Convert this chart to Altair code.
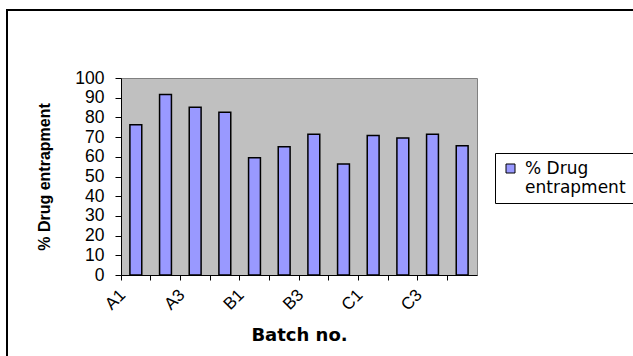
import json
import altair as alt
import pandas as pd

# ---- data ----
batches = ["A1", "A2", "A3", "A4", "B1", "B2", "B3", "B4", "C1", "C2", "C3", "C4"]
entrapment = [76.3, 91.6, 85.1, 82.6, 59.5, 65.1, 71.4, 56.3, 70.8, 69.6, 71.4, 65.6]
series_name = "% Drug entrapment"
y_ticks = [0, 10, 20, 30, 40, 50, 60, 70, 80, 90, 100]

df = pd.DataFrame({
    "batch": batches,
    "value": entrapment,
    "series": [series_name] * len(batches),
})

# show every other category label, like the original
x_label_expr = (
    f"indexof({json.dumps(batches)}, datum.value) % 2 === 0 ? datum.label : ''"
)
legend_label_expr = (
    "[slice(datum.label, 0, lastindexof(datum.label, ' ')), "
    "slice(datum.label, lastindexof(datum.label, ' ') + 1)]"
)

bars = alt.Chart(df).mark_bar(
    width=alt.RelativeBandSize(0.40),
    stroke="black",
    strokeWidth=1.5,
).encode(
    x=alt.X(
        "batch:N",
        sort=batches,
        scale=alt.Scale(paddingInner=0, paddingOuter=0),
        axis=alt.Axis(
            title="Batch no.",
            bandPosition=0,
            labelExpr=x_label_expr,
            labelAngle=-45,
            labelAlign="right",
            labelBaseline="middle",
            labelOffset=-13,
            labelPadding=12,
            labelFont="Liberation Sans",
            labelFontSize=17,
            tickSize=5,
            titleFont="DejaVu Sans",
            titleFontSize=18,
            titleFontWeight="bold",
            titlePadding=13,
        ),
    ),
    y=alt.Y(
        "value:Q",
        scale=alt.Scale(domain=[0, 100], nice=False),
        axis=alt.Axis(
            title="% Drug entrapment",
            values=y_ticks,
            tickSize=6,
            labelPadding=11,
            labelFont="Liberation Sans",
            labelFontSize=17.5,
            titleFont="Liberation Sans",
            titleFontSize=16,
            titleFontWeight="bold",
            titlePadding=22,
        ),
    ),
    color=alt.Color(
        "series:N",
        scale=alt.Scale(range=["#9999FF"]),
        legend=alt.Legend(
            title=None,
            orient="none",
            legendX=374,
            legendY=75,
            strokeColor="black",
            fillColor="white",
            padding=7,
            symbolType="square",
            symbolSize=81,
            symbolStrokeColor="black",
            symbolStrokeWidth=1,
            labelFont="DejaVu Sans",
            labelFontSize=17,
            labelColor="black",
            labelOffset=6,
            labelLimit=0,
            labelBaseline="middle",
            labelExpr=legend_label_expr,
        ),
    ),
)

# outer frame of the figure: only its top and left edges fall inside the page
frame_data = alt.Data(values=[{"k": 1}])
frame_top = alt.Chart(frame_data).mark_rule(color="black", strokeWidth=2).encode(
    x=alt.value(-115), x2=alt.value(900), y=alt.value(-68)
)
frame_left = alt.Chart(frame_data).mark_rule(color="black", strokeWidth=2).encode(
    x=alt.value(-114), y=alt.value(-69), y2=alt.value(600)
)

chart = alt.layer(bars, frame_top, frame_left).properties(
    width=356,
    height=197,
    padding={"left": 121, "top": 78, "right": 156, "bottom": 81},
    autosize=alt.AutoSizeParams(type="none"),
    background="white",
).configure_view(
    fill="#C0C0C0", stroke="#808080", strokeWidth=1
).configure_axis(
    domainColor="black",
    domainWidth=1,
    tickColor="black",
    labelColor="black",
    titleColor="black",
    grid=False,
).configure_legend(
    strokeWidth=1
)

chart.save("out.html", embed_options={"renderer": "svg", "actions": False})
